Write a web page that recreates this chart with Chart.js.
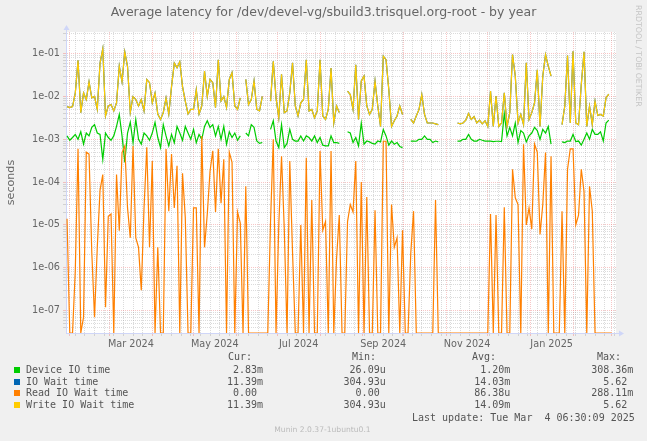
<!DOCTYPE html>
<html>
<head>
<meta charset="utf-8">
<title>Average latency - by year</title>
<script src="https://cdn.jsdelivr.net/npm/chart.js@4.4.1/dist/chart.umd.min.js"></script>
<style>
  html, body { margin: 0; padding: 0; background: #f0f0f0; }
  #wrap { position: relative; width: 647px; height: 441px; overflow: hidden; }
  #wrap canvas { position: absolute; left: 0; top: 0; }
  .txt { position: absolute; white-space: pre; font-family: 'DejaVu Sans', sans-serif; color: #666; }
  .title { left: 0; width: 647px; top: 4px; text-align: center; font-size: 12.5px; line-height: 16px; }
  .wm { left: 633px; top: 5px; writing-mode: vertical-rl; font-size: 7.9px; line-height: 10px; color: #c4c4c4; }
  .footer { left: 0; width: 645px; top: 425px; text-align: center; font-size: 7.6px; line-height: 10px; color: #bbb; }
  .mono { position: absolute; white-space: pre; font-family: 'DejaVu Sans Mono', monospace; font-size: 10px; line-height: 12px; color: #555; }
  .sq { position: absolute; width: 6px; height: 6px; }
</style>
</head>
<body>
<div id="wrap">
  <canvas id="chart" width="647" height="441"></canvas>
  <div class="txt title">Average latency for /dev/devel-vg/sbuild3.trisquel.org-root - by year</div>
  <div class="txt wm">RRDTOOL / TOBI OETIKER</div>
  <div id="legend"></div>
  <div class="txt footer">Munin 2.0.37-1ubuntu0.1</div>
</div>
<script>
// graph covers 400 days, starting Mon 29 Jan 2024 06:30
const rangeDays = 400;
const startOffset = 6.5 / 24;
const sampleStep = 2;      // one reading every 2 days
const sampleOffset = 0.75;

// month starts, counted in days from 29 Jan 2024
const monthStarts = [3, 32, 63, 93, 124, 154, 185, 216, 246, 277, 307, 338, 369, 397];
const monthLabels = ['Mar 2024', 'May 2024', 'Jul 2024', 'Sep 2024', 'Nov 2024', 'Jan 2025'];
const monthLabelDays = [47.5, 108.5, 169.5, 231, 292, 353.5];

const yMin = 3e-8;
const yMax = 0.32;

// seconds, null = no data
const writeWait = [
  0.0058, 0.0055, 0.0058, 0.012, 0.07, 0.0042, 0.012, 0.0085, 0.022, 0.0093,
  0.010, 0.005, 0.06, 0.13, 0.0035, 0.006, 0.0065, 0.0046, 0.0071, 0.051,
  0.022, 0.11, 0.05, 0.0042, 0.010, 0.0085, 0.006, 0.0085, 0.0046, 0.025,
  0.021, 0.0071, 0.012, 0.0039, 0.0029, 0.0042, 0.0093, 0.0039, 0.017, 0.06,
  0.047, 0.065, 0.017, 0.0078, 0.0039, 0.005, 0.005, 0.0145, 0.0039, 0.006,
  0.039, 0.010, 0.025, 0.021, 0.0055, 0.072, 0.0078, 0.010, 0.0055, 0.025,
  0.036, 0.006, 0.005, 0.0093, null, 0.025, 0.0065, 0.0085, 0.023, 0.005,
  0.0046, 0.010, null, null, 0.0078, 0.066, 0.0093, 0.0032, 0.033, 0.0042,
  0.0046, 0.0122, 0.061, 0.006, 0.0035, 0.0071, 0.0085, 0.072, 0.0046, 0.005,
  0.0032, 0.0046, 0.072, 0.0035, 0.0029, 0.005, 0.046, 0.0024, 0.006, 0.0042,
  null, null, 0.0133, 0.0111, 0.005, 0.055, 0.0029, 0.023, 0.030, 0.006,
  0.0038, 0.005, 0.023, 0.006, 0.002, 0.087, 0.072, 0.0146, 0.002, 0.0027,
  0.0035, 0.006, 0.0038, null, null, 0.0029, 0.0024, 0.0035, 0.005, 0.0111,
  0.0038, 0.0024, 0.0024, 0.0024, 0.0023, 0.0022, null, null, null, null,
  null, null, 0.0024, 0.0023, 0.0024, 0.0028, 0.004, 0.0029, 0.0034, 0.0024,
  0.0028, 0.0023, 0.0027, 0.002, 0.0133, 0.002, 0.0102, 0.002, 0.0024, 0.0122,
  0.002, 0.0042, 0.095, 0.030, 0.0024, 0.0038, 0.0022, 0.061, 0.0029, 0.0042,
  0.0071, 0.042, 0.002, 0.030, 0.095, 0.051, 0.03, null, 0.0105, null,
  0.0022, 0.006, 0.09, 0.0024, 0.113, 0.0024, 0.0022, 0.019, 0.11, 0.002,
  0.006, 0.0022, 0.0078, 0.0036, 0.0038, 0.0035, 0.0093, 0.0114, null, null
];

const deviceIo = [
  0.0012, 0.00095, 0.0011, 0.0013, 0.001, 0.0015, 0.00077, 0.0014, 0.0012, 0.0019,
  0.0022, 0.0014, 0.0013, 0.00034, 0.0014, 0.0011, 0.00095, 0.0012, 0.002, 0.0038,
  0.0012, 0.00029, 0.0014, 0.0025, 0.00083, 0.0029, 0.001, 0.00077, 0.0014, 0.0012,
  0.00095, 0.0014, 0.0025, 0.0011, 0.00064, 0.0022, 0.0012, 0.0007, 0.0013, 0.00083,
  0.002, 0.0014, 0.00095, 0.002, 0.0014, 0.001, 0.0017, 0.00083, 0.0013, 0.001,
  0.002, 0.0027, 0.0019, 0.0022, 0.0012, 0.002, 0.001, 0.002, 0.00077, 0.0015,
  0.0011, 0.0014, 0.00095, 0.0012, null, 0.0014, 0.0012, 0.0022, 0.0019, 0.00091,
  0.0008, 0.00084, null, null, 0.0017, 0.0027, 0.00091, 0.00064, 0.0022, 0.00064,
  0.0008, 0.0017, 0.001, 0.00091, 0.00091, 0.0012, 0.00091, 0.0012, 0.0011, 0.00091,
  0.0012, 0.00084, 0.0011, 0.00073, 0.0007, 0.0007, 0.0012, 0.00084, 0.00084, 0.0008,
  null, null, 0.0015, 0.0014, 0.00084, 0.0011, 0.0007, 0.0024, 0.00077, 0.00091,
  0.00087, 0.0008, 0.00077, 0.00091, 0.00087, 0.0017, 0.0012, 0.00073, 0.00091, 0.00077,
  0.00084, 0.00068, 0.00064, null, null, 0.00091, 0.00091, 0.0009, 0.001, 0.001,
  0.0012, 0.001, 0.001, 0.00084, 0.00091, 0.00087, null, null, null, null,
  null, null, 0.00091, 0.00091, 0.001, 0.001, 0.0013, 0.001, 0.00091, 0.00091,
  0.001, 0.00095, 0.00091, 0.00091, 0.00091, 0.00088, 0.0009, 0.0009, 0.00088, 0.004,
  0.0012, 0.0019, 0.0012, 0.0024, 0.00084, 0.0016, 0.0014, 0.00087, 0.0012, 0.0014,
  0.0019, 0.0016, 0.001, 0.0017, 0.0014, 0.002, 0.00077, null, null, null,
  0.00087, 0.00084, 0.00091, 0.00091, 0.0013, 0.00088, 0.00091, 0.00073, 0.001, 0.0014,
  0.001, 0.0017, 0.0013, 0.0013, 0.0015, 0.00091, 0.0024, 0.0028, null, null
];

// 0 = no reads that day (drawn on the bottom edge)
const readWait = [
  1.4e-5, 0, 0, 8.6e-7, 6e-4, 0, 7e-8, 5e-4, 4.5e-4, 2.3e-6,
  7e-8, 3e-6, 6.5e-5, 1.5e-4, 1.2e-7, 1.6e-5, 1.8e-5, 0, 1.5e-4, 7.3e-6,
  4.9e-4, 7e-4, 2.5e-5, 5e-6, 7e-4, 5e-6, 3e-6, 3e-7, 2.5e-5, 6.5e-4,
  3e-6, 3.1e-4, 0, 3e-6, 0, 0, 5.9e-4, 2.1e-5, 4.5e-4, 2.5e-5,
  2.4e-4, 0, 1.6e-4, 1.5e-5, 0, 0, 2.5e-5, 2.5e-5, 0, 1.2e-3,
  3e-6, 1.8e-5, 1.8e-4, 5.4e-4, 2e-5, 6e-4, 3.2e-5, 3.4e-4, 0, 5e-4,
  2.9e-4, 0, 2e-5, 1.1e-5, 0, 8e-5, 0, 0, 0, 0,
  0, 0, 0, 0, 1.2e-5, 1e-3, 0, 1e-5, 4e-4, 8e-6,
  0, 3.1e-4, 2.3e-6, 0, 0, 1e-5, 0, 3.7e-4, 0, 3.8e-5,
  0, 0, 5.3e-4, 7.5e-6, 1.2e-5, 0, 5.3e-4, 0, 1.6e-6, 1.7e-5,
  0, 0, 1.2e-5, 3e-5, 2e-5, 3.1e-4, 0, 1e-4, 0, 4.5e-5,
  0, 0, 2.2e-5, 0, 0, 9e-4, 9e-4, 0, 3e-5, 3e-6,
  5e-6, 0, 7.5e-6, 0, 0, 2.2e-6, 2.1e-5, 0, 0, 0,
  0, 0, 0, 0, 3.8e-5, 0, 0, 0, 0, 0,
  0, 0, 0, 0, 0, 0, 0, 0, 0, 0,
  0, 0, 0, 0, 1.8e-5, 0, 1.7e-5, 0, 0, 2.6e-5,
  0, 0, 2e-4, 4.3e-5, 3e-5, 0, 7.7e-4, 1e-5, 2.5e-5, 8e-6,
  7.7e-4, 5e-4, 6e-6, 3e-5, 4.9e-4, 0, 4e-4, 0, 0, 0,
  2.1e-5, 0, 2e-4, 6e-4, 6e-4, 1e-5, 1.7e-5, 2e-4, 6e-5, 0,
  8e-5, 2.1e-5, 0, 0, 0, 0, 0, 0, 0, null
];

// IO wait is read + write; at this scale it sits under the write line
const ioWait = writeWait;

// legend table
const seriesNames = ['Device IO time', 'IO Wait time', 'Read IO Wait time', 'Write IO Wait time'];
const seriesColors = ['#00cc00', '#0066b3', '#ff8000', '#ffcc00'];
const curValues = ['2.83m', '11.39m', '0.00 ', '11.39m'];
const minValues = ['26.09u', '304.93u', '0.00 ', '304.93u'];
const avgValues = ['1.20m', '14.03m', '86.38u', '14.09m'];
const maxValues = ['308.36m', '5.62 ', '288.11m', '5.62 '];
const lastUpdate = 'Last update: Tue Mar  4 06:30:09 2025';

const fontSans = "'DejaVu Sans', sans-serif";
const textColor = '#666';
const axisColor = '#cfd6f8';
const minorGrid = 'rgba(143,143,143,0.32)';
const majorGrid = 'rgba(240,128,128,0.45)';

function points(values) {
  return values.map((v, i) => ({ x: i * sampleStep + sampleOffset, y: v }));
}

const plotBackground = {
  id: 'plotBackground',
  beforeDraw(chart) {
    const { ctx, chartArea: a } = chart;
    ctx.save();
    ctx.fillStyle = '#ffffff';
    ctx.fillRect(a.left, a.top, a.right - a.left, a.bottom - a.top);
    ctx.restore();
  }
};

// rrdtool style axis arrows
const axisArrows = {
  id: 'axisArrows',
  afterDraw(chart) {
    const { ctx, chartArea: a } = chart;
    const x0 = Math.round(a.left) + 0.5;
    const y0 = Math.round(a.bottom) + 0.5;
    ctx.save();
    ctx.strokeStyle = axisColor;
    ctx.fillStyle = axisColor;
    ctx.lineWidth = 1;
    ctx.beginPath();
    ctx.moveTo(x0, a.top);
    ctx.lineTo(x0, a.top - 3);
    ctx.moveTo(a.right, y0);
    ctx.lineTo(a.right + 4, y0);
    ctx.stroke();
    ctx.beginPath();
    ctx.moveTo(x0 - 3, a.top - 2);
    ctx.lineTo(x0 + 3, a.top - 2);
    ctx.lineTo(x0, a.top - 7);
    ctx.closePath();
    ctx.fill();
    ctx.beginPath();
    ctx.moveTo(a.right + 3, y0 - 3);
    ctx.lineTo(a.right + 3, y0 + 3);
    ctx.lineTo(a.right + 8, y0);
    ctx.closePath();
    ctx.fill();
    ctx.restore();
  }
};

const lineStyle = { borderWidth: 1.2, pointRadius: 0, tension: 0, fill: false, spanGaps: false };

new Chart(document.getElementById('chart'), {
  type: 'line',
  data: {
    datasets: [
      Object.assign({ label: 'Write IO Wait time', data: points(writeWait), borderColor: seriesColors[3], order: 1 }, lineStyle),
      Object.assign({ label: 'Read IO Wait time', data: points(readWait), borderColor: seriesColors[2], order: 2 }, lineStyle),
      Object.assign({ label: 'IO Wait time', data: points(ioWait), borderColor: seriesColors[1], order: 3 }, lineStyle),
      Object.assign({ label: 'Device IO time', data: points(deviceIo), borderColor: seriesColors[0], order: 4 }, lineStyle)
    ]
  },
  options: {
    responsive: false,
    animation: false,
    parsing: false,
    devicePixelRatio: 1,
    layout: { padding: { left: 0, top: 32, right: 31, bottom: 88 } },
    plugins: { legend: { display: false }, tooltip: { enabled: false }, title: { display: false } },
    scales: {
      x: {
        type: 'linear',
        min: 0,
        max: rangeDays,
        afterBuildTicks: scale => {
          const ticks = [];
          monthStarts.forEach(d => ticks.push({ value: d - startOffset, kind: 'month' }));
          for (let w = 1; w * 7 - startOffset < rangeDays; w++) {
            const v = w * 7 - startOffset;
            if (monthStarts.some(d => Math.abs(d - startOffset - v) < 0.01)) continue;
            ticks.push({ value: v, kind: 'week' });
          }
          monthLabelDays.forEach((d, k) => ticks.push({ value: d - startOffset, kind: 'label', text: monthLabels[k] }));
          ticks.sort((a, b) => a.value - b.value);
          scale.ticks = ticks;
        },
        afterFit: scale => { scale.height = 20; },
        grid: {
          color: ctx => {
            const t = ctx.tick;
            if (!t || t.kind === 'label') return 'rgba(0,0,0,0)';
            return t.kind === 'month' ? majorGrid : minorGrid;
          },
          lineWidth: 1,
          tickLength: 3
        },
        border: { display: true, color: axisColor, width: 1, dash: [1, 1] },
        ticks: {
          autoSkip: false,
          maxRotation: 0,
          minRotation: 0,
          padding: 3,
          color: textColor,
          font: { family: fontSans, size: 9.7 },
          callback: (v, i, ticks) => (ticks[i] && ticks[i].kind === 'label') ? ticks[i].text : ''
        }
      },
      y: {
        type: 'logarithmic',
        min: yMin,
        max: yMax,
        afterBuildTicks: scale => {
          const ticks = [];
          for (let e = -8; e <= -1; e++) {
            for (let m = 1; m <= 9; m++) {
              const v = m * Math.pow(10, e);
              if (v > yMin * 1.01 && v < yMax * 0.99) ticks.push({ value: v, decade: m === 1, exp: e });
            }
          }
          scale.ticks = ticks;
        },
        afterFit: scale => { scale.width = 66; },
        grid: {
          color: ctx => (ctx.tick && ctx.tick.decade) ? majorGrid : minorGrid,
          lineWidth: 1,
          tickLength: 3
        },
        border: { display: true, color: axisColor, width: 1, dash: [1, 1] },
        ticks: {
          autoSkip: false,
          padding: 3,
          color: textColor,
          font: { family: fontSans, size: 9.7 },
          callback: (v, i, ticks) => {
            const t = ticks[i];
            return (t && t.decade) ? '1e-' + String(-t.exp).padStart(2, '0') : '';
          }
        },
        title: {
          display: true,
          text: 'seconds',
          color: textColor,
          font: { family: fontSans, size: 11.1 },
          padding: { top: 4, bottom: 0 }
        }
      }
    }
  },
  plugins: [plotBackground, axisArrows]
});

// legend block under the graph
const legend = document.getElementById('legend');
function addMono(text, style) {
  const d = document.createElement('div');
  d.className = 'mono';
  d.textContent = text;
  Object.assign(d.style, style);
  legend.appendChild(d);
}
const rowCenters = [369.8, 381.6, 393.4, 405.2];
const headLefts = [228, 352, 472, 597];
const colRights = [263, 385.7, 510.3, 633.3];
['Cur:', 'Min:', 'Avg:', 'Max:'].forEach((h, k) => addMono(h, { left: headLefts[k] + 'px', top: '351px' }));
seriesNames.forEach((name, r) => {
  const top = (rowCenters[r] - 6) + 'px';
  const sq = document.createElement('div');
  sq.className = 'sq';
  sq.style.left = '14px';
  sq.style.top = (rowCenters[r] - 3) + 'px';
  sq.style.background = seriesColors[r];
  legend.appendChild(sq);
  addMono(name, { left: '26px', top });
  [curValues, minValues, avgValues, maxValues].forEach((col, k) => {
    addMono(col[r], { right: (647 - colRights[k]) + 'px', top });
  });
});
addMono(lastUpdate, { left: '412px', top: '412px' });
</script>
</body>
</html>
